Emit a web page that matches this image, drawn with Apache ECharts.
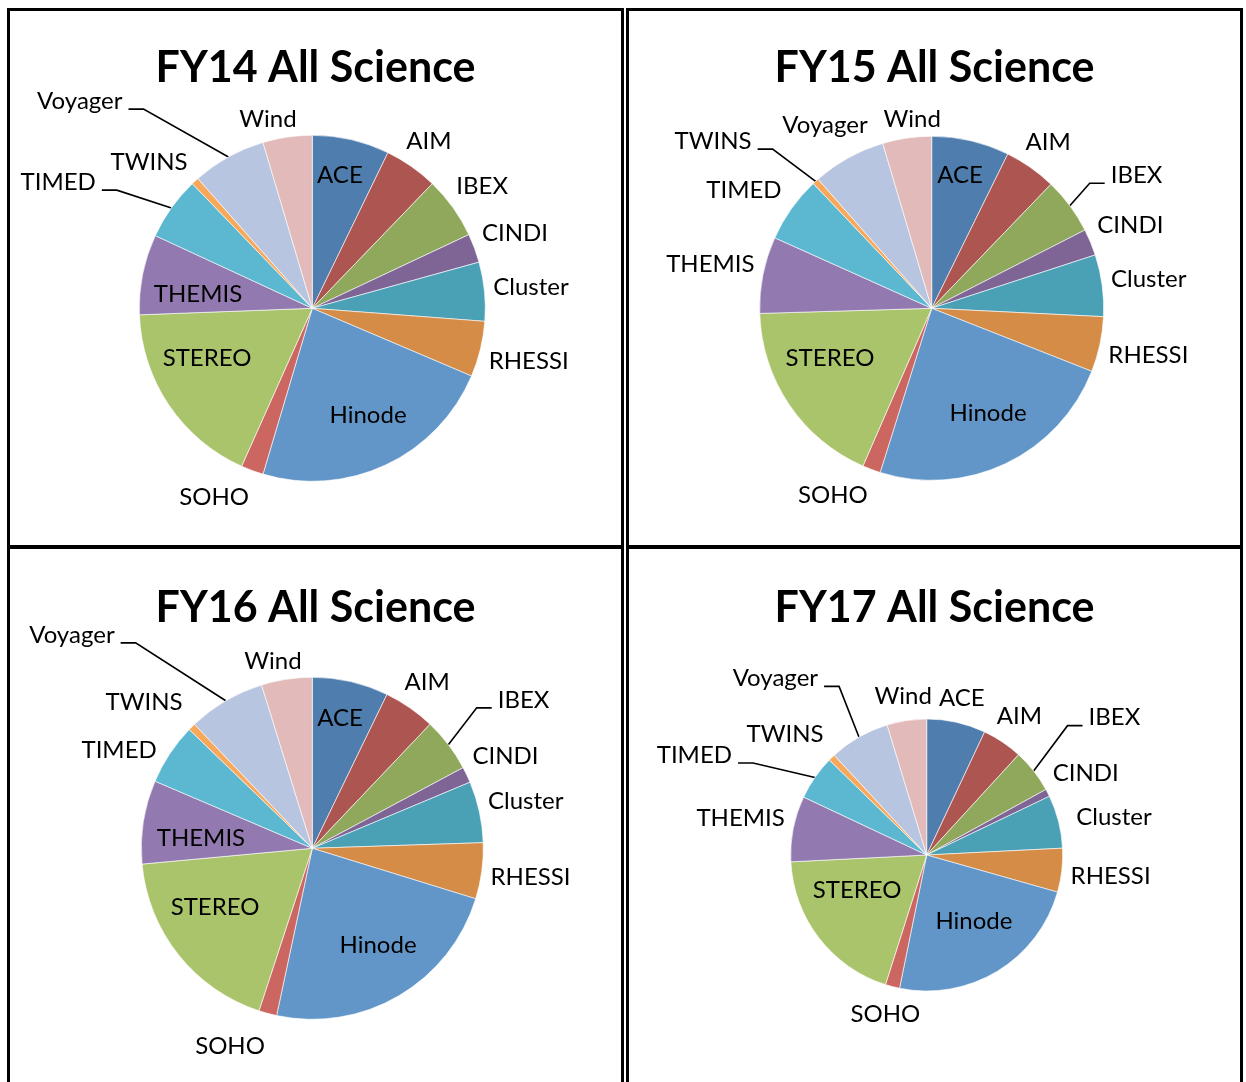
<!DOCTYPE html>
<html><head><meta charset="utf-8">
<script src="https://cdn.jsdelivr.net/npm/echarts@6/dist/echarts.min.js"></script>
<style>
html,body{margin:0;padding:0;background:#fff;}
body{width:1246px;height:1082px;overflow:hidden;position:relative;}
.panel{position:absolute;box-sizing:border-box;border:3px solid #000;pointer-events:none;z-index:2;}
.chart{position:absolute;}
</style></head><body>
<div class="chart" id="c1" style="left:10px;top:11px;width:611px;height:534px"></div>
<div class="chart" id="c2" style="left:629px;top:11px;width:611px;height:534px"></div>
<div class="chart" id="c3" style="left:10px;top:549px;width:611px;height:533px"></div>
<div class="chart" id="c4" style="left:629px;top:549px;width:611px;height:533px"></div>
<div class="panel" style="left:7px;top:8px;width:617px;height:540px"></div>
<div class="panel" style="left:626px;top:8px;width:617px;height:540px"></div>
<div class="panel" style="left:7px;top:546px;width:617px;height:600px"></div>
<div class="panel" style="left:626px;top:546px;width:617px;height:600px"></div>
<script>
const categories = ['ACE','AIM','IBEX','CINDI','Cluster','RHESSI','Hinode','SOHO','STEREO','THEMIS','TIMED','TWINS','Voyager','Wind'];
const titles = ['FY14 All Science','FY15 All Science','FY16 All Science','FY17 All Science'];
const fy14 = [7.2,5.0,5.8,2.7,5.5,5.2,23.2,2.1,17.7,7.5,5.9,0.7,6.9,4.6];
const fy15 = [7.3,4.9,5.3,2.5,5.8,5.2,23.9,1.7,18.0,7.2,6.2,0.6,6.9,4.6];
const fy16 = [7.2,4.9,5.1,1.5,5.8,5.3,23.6,1.7,18.5,7.9,5.8,0.7,7.3,4.8];
const fy17 = [7.0,4.8,5.2,0.9,6.3,5.2,23.8,1.7,19.3,7.8,5.3,0.8,7.2,4.7];
const colors = ['#4F7EAE','#AD5550','#8FA85B','#7F6596','#4AA0B5','#D58C47','#6296C9','#CC6660','#AAC46B','#927AB0','#5BB8D0','#F8A85A','#B8C5E0','#E1BAB9'];

// Excel-like label placement hints: polar anchors [deg clockwise from 12 o'clock, radius factor];
// labels without a hint sit just outside the rim at their slice's mid angle.
const plans = [
  {center:[302.3,297.3], r:173,
   place:{ACE:[11.7,0.787], THEMIS:[277.1,0.666], STEREO:[244.7,0.673], Hinode:[152.4,0.696],
          Voyager:[311.7,1.80], TIMED:[296.4,1.64], TWINS:[311.9,1.268], SOHO:[207.5,1.23], Wind:[346.8,1.124]},
   lined:['Voyager','TIMED']},
  {center:[302.7,297.3], r:172,
   place:{ACE:[12.0,0.792], STEREO:[244.0,0.658], Hinode:[151.7,0.691],
          TWINS:[307.4,1.60], IBEX:[57.0,1.42], SOHO:[207.9,1.228], Wind:[354.1,1.106], Voyager:[329.8,1.233], TIMED:[302.2,1.29]},
   lined:['TWINS','IBEX']},
  {center:[302.3,299.3], r:171,
   place:{ACE:[12.0,0.779], THEMIS:[275.3,0.654], STEREO:[238.9,0.664], Hinode:[145.8,0.684],
          Voyager:[311.6,1.88], IBEX:[54.9,1.51], TIMED:[297,1.268], SOHO:[202.6,1.252], TWINS:[311,1.304], Wind:[348.15,1.119]},
   lined:['Voyager','IBEX']},
  {center:[297.7,306], r:136,
   place:{STEREO:[243.3,0.573], Hinode:[144.4,0.597],
          Voyager:[319.4,1.71], TIMED:[293.3,1.86], IBEX:[53.8,1.71], TWINS:[310.5,1.37], Cluster:[78.5,1.405]},
   lined:['Voyager','TIMED','IBEX']}
];
const seriesValues = [fy14, fy15, fy16, fy17];
const FONT = 'Lato';
const GAP = 8;

function makeLayout(values, plan) {
  const total = values.reduce((a,b)=>a+b,0);
  const mids = []; let acc = 0;
  values.forEach(v => { mids.push((acc + v/2)/total*360); acc += v; });
  const cx = plan.center[0], cy = plan.center[1], r = plan.r;
  return function (p) {
    const name = categories[p.dataIndex];
    const w = p.labelRect.width, h = p.labelRect.height;
    const a = mids[p.dataIndex]*Math.PI/180;
    const dx = Math.sin(a), dy = -Math.cos(a);
    let px, py;
    const fix = plan.place[name];
    if (fix) {
      const b = fix[0]*Math.PI/180;
      px = cx + Math.sin(b)*fix[1]*r; py = cy - Math.cos(b)*fix[1]*r;
    } else {
      const d = r + GAP + w/2*Math.abs(dx) + h/2*Math.abs(dy);
      px = cx + dx*d; py = cy + dy*d;
    }
    const out = {x: px, y: py, align:'center', verticalAlign:'middle'};
    if (plan.lined.indexOf(name) >= 0) {
      const left = px < cx;
      const ex = left ? px + w/2 + 6 : px - w/2 - 6;
      const ly = py + 8;
      const bx = left ? ex + 15 : ex - 15;
      out.labelLinePoints = [[cx+dx*r, cy+dy*r],[bx,ly],[ex,ly]];
    }
    return out;
  };
}

['c1','c2','c3','c4'].forEach((id, i) => {
  const chart = echarts.init(document.getElementById(id), null, {renderer:'canvas'});
  const plan = plans[i];
  const values = seriesValues[i];
  chart.setOption({
    animation: false,
    title: {
      text: titles[i], left: 'center', top: i < 2 ? 36 : 38, padding: 0,
      textStyle: {fontFamily: FONT, fontWeight: 'bold', fontSize: 43, lineHeight: 43, color: '#000'}
    },
    series: [{
      type: 'pie',
      center: plan.center,
      radius: [0, plan.r],
      startAngle: 90,
      clockwise: true,
      avoidLabelOverlap: false,
      silent: true,
      itemStyle: {borderColor: '#ffffff', borderWidth: 0.6},
      label: {show: true, position: 'outside', fontFamily: FONT, fontSize: 24, color: '#000'},
      labelLine: {show: false, lineStyle: {color: '#000', width: 1.6}, smooth: false},
      labelLayout: makeLayout(values, plan),
      data: categories.map((name, k) => ({
        name: name, value: values[k],
        itemStyle: {color: colors[k]},
        labelLine: {show: plan.lined.indexOf(name) >= 0, length: 10, length2: 10}
      }))
    }]
  });
});
</script>
</body></html>
